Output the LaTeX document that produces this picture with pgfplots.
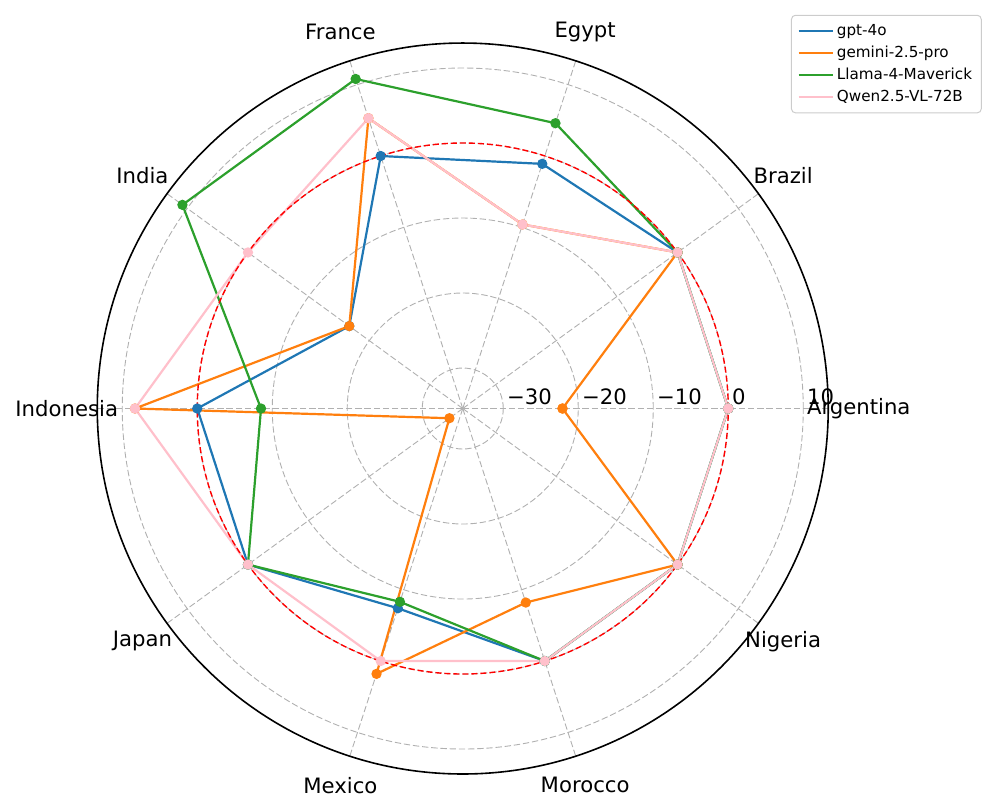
\documentclass[border=0pt]{standalone}
\usepackage{fontspec}
\setmainfont{DejaVu Sans}
\usepackage{pgfplots}
\usepackage{pgfplotstable}
\pgfplotsset{compat=1.18}

\definecolor{tabblue}{HTML}{1F77B4}
\definecolor{taborange}{HTML}{FF7F0E}
\definecolor{tabgreen}{HTML}{2CA02C}
\definecolor{qpink}{HTML}{FFC0CB}
\definecolor{gridgray}{HTML}{B0B0B0}

\tikzset{
  gridl/.style={gridgray, line width=0.45pt, dash pattern=on 3.2pt off 1.4pt},
  lab/.style={font=\fontsize{10.6}{12.5}\selectfont},
  tl/.style={font=\fontsize{10.6}{12.5}\selectfont, anchor=base west, inner sep=0pt},
}

% angle (deg) and scores; last row closes the polygon (Argentina again)
\pgfplotstableread{
ang gpt gemini llama qwen
0   0     -22.1  0     0
36  0     0      0     0
72  -1.1  -9.6   4.6   -9.6
108 0     5.3    10.8  5.3
144 -16.7 -16.7  10.8  0
180 0     8.3    -8.5  8.3
216 0     -33.2  0     0
252 -7.4  1.8    -8.3  0
288 0     -8.2   0     0
324 0     0      0     0
360 0     -22.1  0     0
}\data

\def\rz{35.4}

\begin{document}
\begin{tikzpicture}
\begin{axis}[
  name=ax,
  x=3.75pt, y=3.75pt,
  xmin=-61.7, xmax=71.1, ymin=-53.67, ymax=54.47,
  hide axis, clip=false,
  legend style={at={(axis cs:69.2,52.5)}, anchor=north east,
    draw=black!20, rounded corners=2pt, line width=0.5pt, fill=white,
    font=\fontsize{7.6}{9}\selectfont, inner xsep=3pt, inner ysep=2.5pt,
    row sep=0.2pt, nodes={inner sep=1.6pt, text height=5.8pt, text depth=1.8pt}},
  legend cell align=left,
  legend image code/.code={\draw[#1] (0pt,0pt) -- (17pt,0pt);},
]
% grid circles
\draw[gridl] (axis cs:0,0) circle[radius=5.4];
\draw[gridl] (axis cs:0,0) circle[radius=15.4];
\draw[gridl] (axis cs:0,0) circle[radius=25.4];
\draw[gridl] (axis cs:0,0) circle[radius=35.4];
\draw[gridl] (axis cs:0,0) circle[radius=45.4];
% spokes
\pgfplotsinvokeforeach{0,36,72,108,144,180,216,252,288,324}{
  \draw[gridl] (axis cs:0,0) -- (axis cs:{48.73*cos(#1)},{48.73*sin(#1)});
}
% outer circle
\draw[black, line width=0.8pt] (axis cs:0,0) circle[radius=48.73];

% data
\addplot[tabblue, line width=1.1pt, mark=*, mark size=2pt]
  table[x expr={(\thisrow{gpt}+\rz)*cos(\thisrow{ang})}, y expr={(\thisrow{gpt}+\rz)*sin(\thisrow{ang})}] {\data};
\addlegendentry{gpt-4o}
\addplot[taborange, line width=1.1pt, mark=*, mark size=2pt]
  table[x expr={(\thisrow{gemini}+\rz)*cos(\thisrow{ang})}, y expr={(\thisrow{gemini}+\rz)*sin(\thisrow{ang})}] {\data};
\addlegendentry{gemini-2.5-pro}
\addplot[tabgreen, line width=1.1pt, mark=*, mark size=2pt]
  table[x expr={(\thisrow{llama}+\rz)*cos(\thisrow{ang})}, y expr={(\thisrow{llama}+\rz)*sin(\thisrow{ang})}] {\data};
\addlegendentry{Llama-4-Maverick}
\addplot[qpink, line width=1.1pt, mark=*, mark size=2pt]
  table[x expr={(\thisrow{qwen}+\rz)*cos(\thisrow{ang})}, y expr={(\thisrow{qwen}+\rz)*sin(\thisrow{ang})}] {\data};
\addlegendentry{Qwen2.5-VL-72B}

% zero reference
\draw[red, line width=0.7pt, dash pattern=on 3pt off 1.5pt] (axis cs:0,0) circle[radius=35.4];

% radial tick labels
\node[tl] at (axis cs:5.85,0.47) {−30};
\node[tl] at (axis cs:15.85,0.47) {−20};
\node[tl] at (axis cs:25.85,0.47) {−10};
\node[tl] at (axis cs:35.85,0.47) {0};
\node[tl] at (axis cs:45.85,0.47) {10};

% category labels
\node[lab] at (axis cs:{52.8*cos(0)},{52.8*sin(0)}) {Argentina};
\node[lab] at (axis cs:{52.8*cos(36)},{52.8*sin(36)}) {Brazil};
\node[lab] at (axis cs:{52.8*cos(72)},{52.8*sin(72)}) {Egypt};
\node[lab] at (axis cs:{52.8*cos(108)},{52.8*sin(108)}) {France};
\node[lab] at (axis cs:{52.8*cos(144)},{52.8*sin(144)}) {India};
\node[lab] at (axis cs:{52.8*cos(180)},{52.8*sin(180)}) {Indonesia};
\node[lab] at (axis cs:{52.8*cos(216)},{52.8*sin(216)}) {Japan};
\node[lab] at (axis cs:{52.8*cos(252)},{52.8*sin(252)}) {Mexico};
\node[lab] at (axis cs:{52.8*cos(288)},{52.8*sin(288)}) {Morocco};
\node[lab] at (axis cs:{52.8*cos(324)},{52.8*sin(324)}) {Nigeria};
\end{axis}
\pgfresetboundingbox
\path[use as bounding box] (ax.south west) rectangle (ax.north east);
\end{tikzpicture}
\end{document}
